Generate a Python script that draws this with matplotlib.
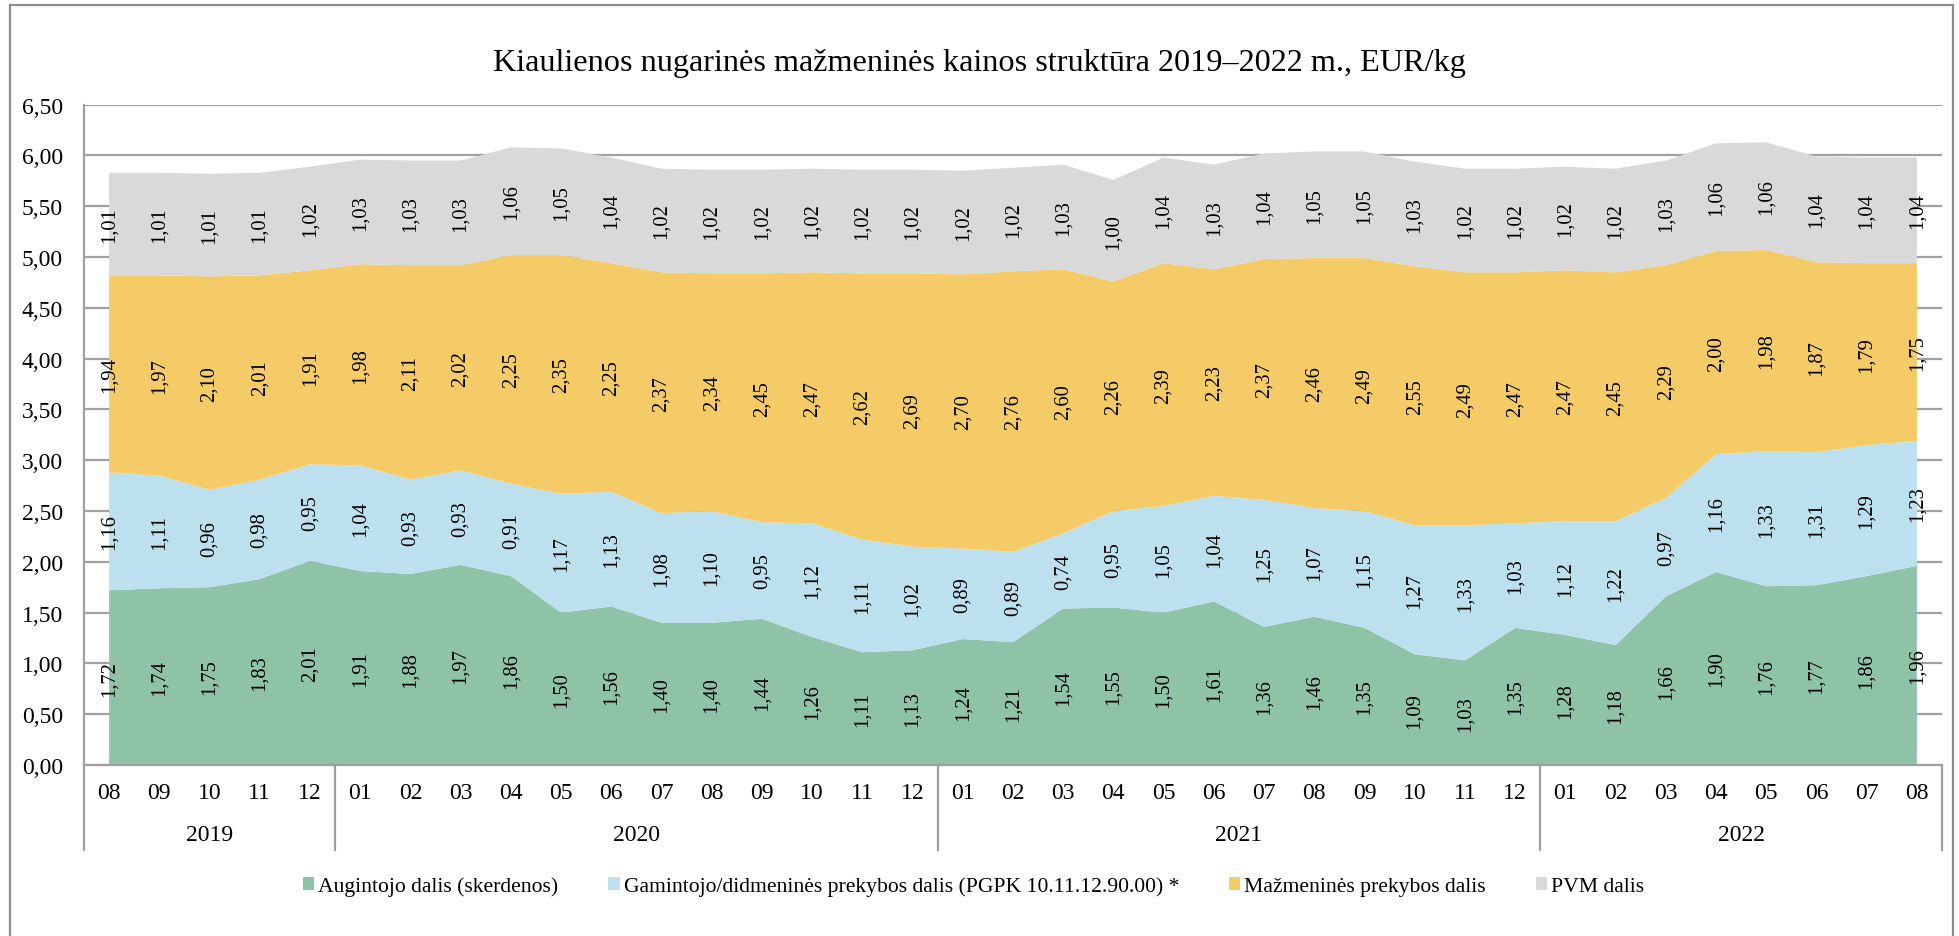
import numpy as np
import matplotlib
matplotlib.use("Agg")
import matplotlib.pyplot as plt
from matplotlib.patches import Patch, Rectangle

plt.rcParams['font.family'] = ['Liberation Serif', 'DejaVu Serif']

# Duomenys
years = ['2019', '2020', '2021', '2022']
months = ['08', '09', '10', '11', '12',
          '01', '02', '03', '04', '05', '06', '07', '08', '09', '10', '11', '12',
          '01', '02', '03', '04', '05', '06', '07', '08', '09', '10', '11', '12',
          '01', '02', '03', '04', '05', '06', '07', '08']
year_counts = [5, 12, 12, 8]

augintojo = [1.72, 1.74, 1.75, 1.83, 2.01,
             1.91, 1.88, 1.97, 1.86, 1.50, 1.56, 1.40, 1.40, 1.44, 1.26, 1.11, 1.13,
             1.24, 1.21, 1.54, 1.55, 1.50, 1.61, 1.36, 1.46, 1.35, 1.09, 1.03, 1.35,
             1.28, 1.18, 1.66, 1.90, 1.76, 1.77, 1.86, 1.96]
gamintojo = [1.16, 1.11, 0.96, 0.98, 0.95,
             1.04, 0.93, 0.93, 0.91, 1.17, 1.13, 1.08, 1.10, 0.95, 1.12, 1.11, 1.02,
             0.89, 0.89, 0.74, 0.95, 1.05, 1.04, 1.25, 1.07, 1.15, 1.27, 1.33, 1.03,
             1.12, 1.22, 0.97, 1.16, 1.33, 1.31, 1.29, 1.23]
mazmenines = [1.94, 1.97, 2.10, 2.01, 1.91,
              1.98, 2.11, 2.02, 2.25, 2.35, 2.25, 2.37, 2.34, 2.45, 2.47, 2.62, 2.69,
              2.70, 2.76, 2.60, 2.26, 2.39, 2.23, 2.37, 2.46, 2.49, 2.55, 2.49, 2.47,
              2.47, 2.45, 2.29, 2.00, 1.98, 1.87, 1.79, 1.75]
pvm = [1.01, 1.01, 1.01, 1.01, 1.02,
       1.03, 1.03, 1.03, 1.06, 1.05, 1.04, 1.02, 1.02, 1.02, 1.02, 1.02, 1.02,
       1.02, 1.02, 1.03, 1.00, 1.04, 1.03, 1.04, 1.05, 1.05, 1.03, 1.02, 1.02,
       1.02, 1.02, 1.03, 1.06, 1.06, 1.04, 1.04, 1.04]

series_names = ['Augintojo dalis (skerdenos)',
                'Gamintojo/didmeninės prekybos dalis (PGPK 10.11.12.90.00) *',
                'Mažmeninės prekybos dalis',
                'PVM dalis']
colors = ['#8fc3a8', '#bde0ef', '#f4cb66', '#d9d9d9']

W, H = 1959, 937
fig = plt.figure(figsize=(W / 100, H / 100), dpi=100)
ax = fig.add_axes([84 / W, (H - 766) / H, (1942 - 84) / W, (766 - 105.7) / H])

x = np.arange(len(months))
data = [augintojo, gamintojo, mazmenines, pvm]
ax.stackplot(x, *data, colors=colors, zorder=2)

# Reiksmiu etiketes
base = np.zeros(len(x))
for vals in data:
    vals = np.array(vals)
    for i, v in enumerate(vals):
        ax.text(x[i], base[i] + v / 2, f"{v:.2f}".replace('.', ','), rotation=90,
                ha='center', va='center', fontsize=14.8, color='black', zorder=3)
    base += vals

ax.set_xlim(-0.5, len(x) - 0.5)
ax.set_ylim(0, 6.5)
yt = np.arange(0, 6.51, 0.5)
ax.set_yticks(yt)
ax.set_yticklabels([f"{v:.2f}".replace('.', ',') for v in yt], fontsize=17)
ax.tick_params(axis='y', length=0, pad=15)
ax.set_xticks([])
ax.grid(axis='y', color='#a0a0a0', lw=1.6, zorder=0)
ax.set_axisbelow(True)
for s in ['top', 'right']:
    ax.spines[s].set_visible(False)
for s in ['left', 'bottom']:
    ax.spines[s].set_color('#a0a0a0')
    ax.spines[s].set_linewidth(1.6)

# Menesiu ir metu asis
tr = ax.get_xaxis_transform()
for i, m in enumerate(months):
    ax.text(x[i], -0.041, m, transform=tr, ha='center', va='center', fontsize=17)
start = 0
bounds = [-0.5]
for yr, n in zip(years, year_counts):
    ax.text(start + (n - 1) / 2, -0.1045, yr, transform=tr, ha='center', va='center', fontsize=17)
    start += n
    bounds.append(start - 0.5)
for b in bounds:
    ax.plot([b, b], [0, -0.128], transform=tr, color='#a0a0a0', lw=1.6, clip_on=False)

fig.text(0.5, 1 - 63 / H, 'Kiaulienos nugarinės mažmeninės kainos struktūra 2019–2022 m., EUR/kg',
         ha='center', va='center', fontsize=23.2)

handles = [Patch(facecolor=c, edgecolor='none') for c in colors]
fig.legend(handles, series_names, loc='center', bbox_to_anchor=(973.5 / W, (H - 887) / H), ncol=4,
           frameon=False, fontsize=15.6, handlelength=0.53, handleheight=0.53,
           handletextpad=0.18, columnspacing=2.3, borderpad=0)

fig.add_artist(Rectangle((10 / W, -0.02), (1953 - 10) / W, (H - 6) / H + 0.02,
                         transform=fig.transFigure, fill=False, edgecolor='#8c8c8c', lw=1.6))

fig.savefig('out.png', dpi=100)
